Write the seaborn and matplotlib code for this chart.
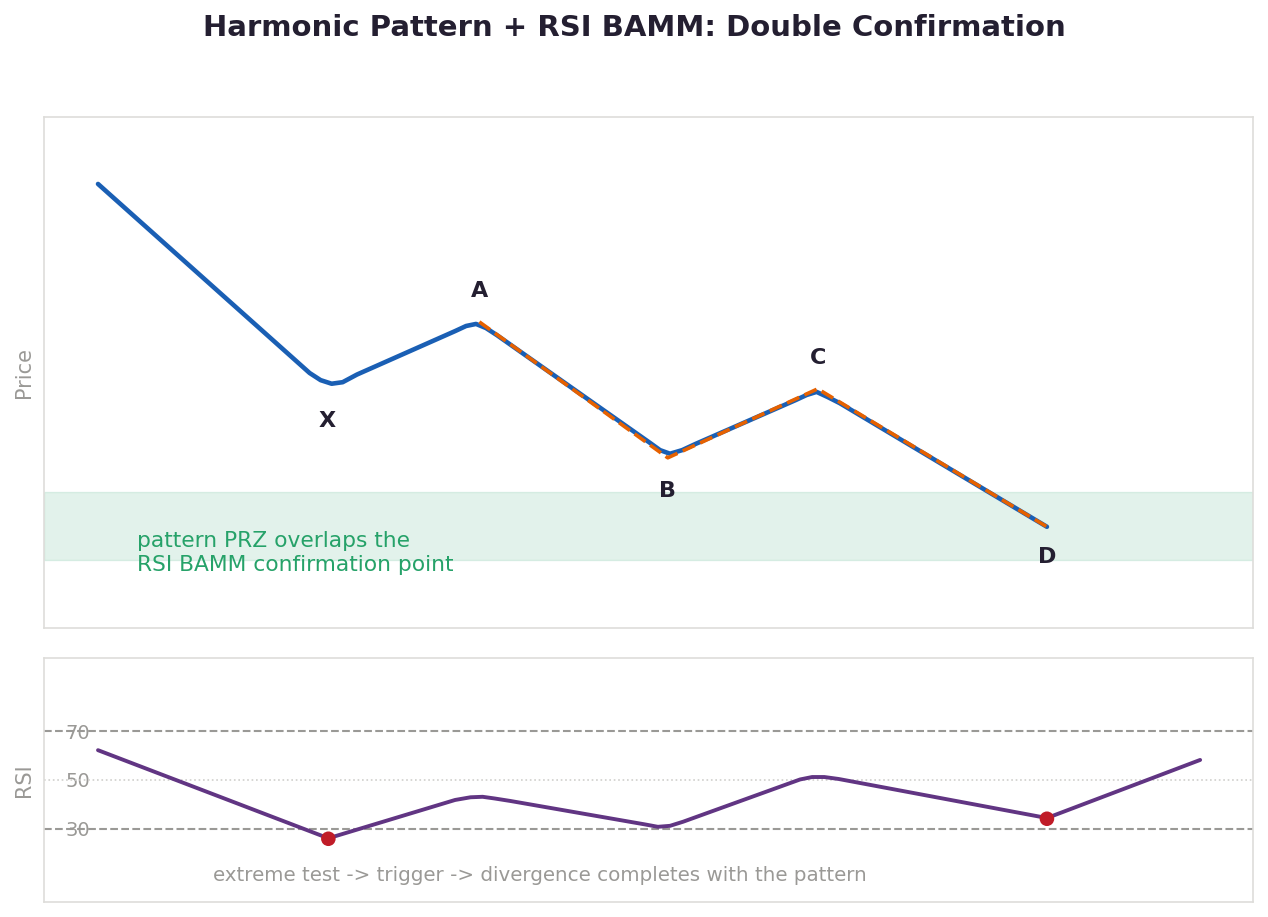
import numpy as np
import pandas as pd
import seaborn as sns
import matplotlib.pyplot as plt

# price path (bar index, price), with the points along the rounded turns
price_x = [0, 19.2, 20.2, 21.2, 22.2, 23.5, 32.4, 33.4, 34.3, 35.2, 36.2,
           50.1, 51.0, 51.9, 53.0, 54.2, 63.3, 64.3, 65.2, 66.2, 67.3, 86.1]
price_y = [86.9, 49.9, 48.5, 47.8, 48.1, 49.6, 58.1, 59.1, 59.5, 58.7, 57.3,
           36.2, 34.8, 34.1, 34.8, 36.0, 44.6, 45.6, 46.2, 45.2, 44.0, 19.8]

# harmonic legs A-B-C-D
pivot_names = ['X', 'A', 'B', 'C', 'D']
pivot_x = [20.8, 34.6, 51.7, 65.3, 86.1]
pivot_y = [47.8, 59.9, 33.3, 46.8, 19.8]

prz_low, prz_high = 13.3, 26.6

# RSI
rsi_x = [0, 20.9, 32.4, 33.8, 34.9, 36.0, 37.4, 49.6, 50.8, 51.9, 53.1,
         63.7, 64.8, 65.9, 67.2, 86.1, 100]
rsi_y = [62.2, 26.1, 41.8, 42.9, 43.1, 42.4, 41.4, 31.8, 30.8, 31.2, 32.9,
         50.2, 51.2, 51.2, 50.4, 34.4, 58.2]
bamm_x = [20.9, 86.1]
bamm_y = [25.9, 34.1]

BLUE = '#1a5fb4'
ORANGE = '#e66100'
PURPLE = '#613583'
RED = '#c01c28'
GREEN = '#26a269'
DARK = '#241f31'
GREY = '#9a9996'

sns.set_theme(style='white')
plt.rcParams['font.family'] = ['DejaVu Sans']

fig = plt.figure(figsize=(12.68, 9.17), dpi=100)
ax = fig.add_axes([0.0347, 0.3152, 0.9535, 0.5572])
ax2 = fig.add_axes([0.0347, 0.0164, 0.9535, 0.2661])

# price panel
ax.axhspan(prz_low, prz_high, facecolor=GREEN, alpha=0.13, edgecolor=GREEN, lw=1)
sns.lineplot(x=price_x, y=price_y, ax=ax, color=BLUE, lw=3.3, sort=False, estimator=None)
sns.lineplot(x=pivot_x[1:], y=pivot_y[1:], ax=ax, color=ORANGE, lw=2.6, ls='--',
             sort=False, estimator=None)

offsets = {'X': -7.2, 'A': 6.1, 'B': -6.5, 'C': 6.0, 'D': -5.9}
for n, px, py in zip(pivot_names, pivot_x, pivot_y):
    ax.text(px, py + offsets[n], n, ha='center', va='center', fontsize=16,
            fontweight='bold', color=DARK)

ax.text(3.5, 18.9, 'pattern PRZ overlaps the\nRSI BAMM confirmation point',
        color=GREEN, fontsize=15.7, va='top', ha='left')

ax.set_xlim(-4.9, 104.8)
ax.set_ylim(0, 100)
ax.set_xticks([])
ax.set_yticks([])
ax.set_ylabel('Price', color=GREY, fontsize=15)
ax.yaxis.set_label_coords(-0.0085, 0.5)

# RSI panel
for lvl in (70, 30):
    ax2.axhline(lvl, color=GREY, ls='--', lw=1.5, zorder=1)
ax2.axhline(50, color='#d0cfcc', ls=':', lw=1.2, zorder=1)
sns.lineplot(x=rsi_x, y=rsi_y, ax=ax2, color=PURPLE, lw=2.8, sort=False, estimator=None)
sns.scatterplot(x=bamm_x, y=bamm_y, ax=ax2, color=RED, s=110, edgecolor='none', zorder=5)
ax2.text(10.4, 10.8, 'extreme test -> trigger -> divergence completes with the pattern',
         color=GREY, fontsize=14.3, va='center', ha='left')

ax2.set_xlim(-4.9, 104.8)
ax2.set_ylim(0, 100)
ax2.set_xticks([])
ax2.set_yticks([30, 50, 70])
ax2.tick_params(axis='y', length=0, pad=-33, labelsize=14, labelcolor=GREY)
ax2.set_ylabel('RSI', color=GREY, fontsize=15)
ax2.yaxis.set_label_coords(-0.0085, 0.5)

for a in (ax, ax2):
    for s in a.spines.values():
        s.set_color('#deddda')
        s.set_linewidth(1.2)

fig.text(0.5, 1 - 28 / 917, 'Harmonic Pattern + RSI BAMM: Double Confirmation',
         ha='center', va='center', fontsize=21, fontweight='bold', color=DARK)

fig.savefig('out.png', dpi=100)
